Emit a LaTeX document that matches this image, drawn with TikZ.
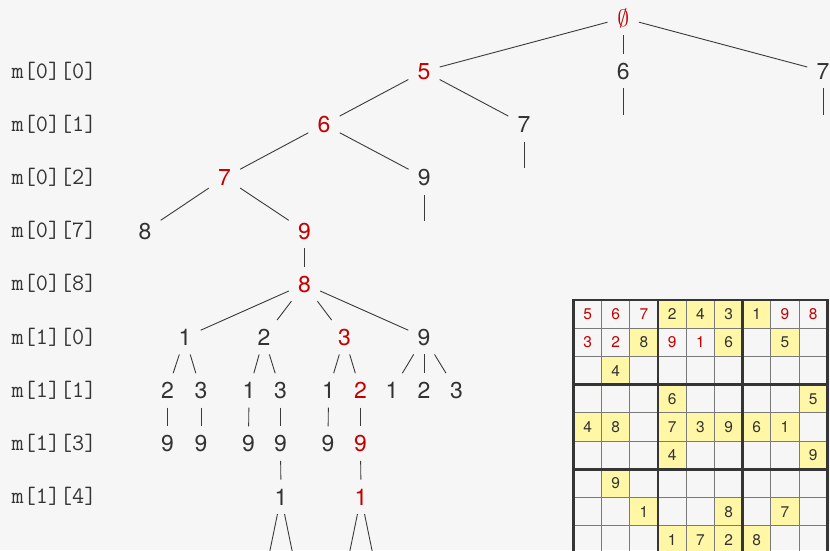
\documentclass[tikz,border=0pt]{standalone}
\usepackage{fontspec}
\usepackage{graphicx}
\newfontfamily\herosfont{TeX Gyre Heros}
\definecolor{bgc}{HTML}{F6F6F6}
\definecolor{ink}{HTML}{333333}
\definecolor{myred}{HTML}{C40000}
\definecolor{linec}{HTML}{3A3A3A}
\definecolor{yel}{HTML}{FFF6A6}
\definecolor{thinc}{HTML}{7A7A7A}
\definecolor{thickc}{HTML}{353535}
\tikzset{
  nd/.style={font=\herosfont\fontsize{23}{27}\selectfont, text=ink, minimum width=31pt, minimum height=34pt, inner sep=0pt, text height=16.4pt, text depth=0pt},
  rd/.style={nd, text=myred},
  edge/.style={draw=linec, line width=0.9pt},
  lab/.style={font=\ttfamily\fontsize{23.5}{27}\selectfont, text=ink, anchor=base west, inner sep=0pt},
  gd/.style={font=\herosfont\fontsize{15.5}{18}\selectfont, text=ink, inner sep=0pt, text height=11pt, text depth=0pt},
  gr/.style={gd, text=myred},
  thinl/.style={draw=thinc, line width=1pt},
  thickl/.style={draw=thickc, line width=2.6pt, line cap=rect},
}
\begin{document}
\begin{tikzpicture}[x=1pt,y=-1pt]
\fill[bgc] (0,0) rectangle (830,550);
\useasboundingbox (0,0) rectangle (830,550);

% row labels
\node[lab] (l1) at (11.5,78) {m[0][0]};
\node[lab] (l2) at (11.5,131.2) {m[0][1]};
\node[lab] (l3) at (11.5,184.4) {m[0][2]};
\node[lab] (l4) at (11.5,237.6) {m[0][7]};
\node[lab] (l5) at (11.5,290.8) {m[0][8]};
\node[lab] (l6) at (11.5,344) {m[1][0]};
\node[lab] (l7) at (11.5,397.2) {m[1][1]};
\node[lab] (l8) at (11.5,450.4) {m[1][3]};
\node[lab] (l9) at (11.5,503.6) {m[1][4]};

% tree nodes
\node[rd] (r) at (623.3,18) {{\fontsize{24.88}{28}\selectfont\scalebox{0.95}{$\emptyset$}}};
\node[rd] (a5) at (424,71.2) {5};
\node[nd] (a6) at (623.3,71.2) {6};
\node[nd] (a7) at (823,71.2) {7};
\node[rd] (b6) at (324,124.4) {6};
\node[nd] (b7) at (524,124.4) {7};
\node[rd] (c7) at (224.5,177.6) {7};
\node[nd] (c9) at (424.3,177.6) {9};
\node[nd] (d8) at (145,230.8) {8};
\node[rd] (d9) at (304.5,230.8) {9};
\node[rd] (e8) at (304.5,284) {8};
\node[nd] (f1) at (185,337.2) {1};
\node[nd] (f2) at (264,337.2) {2};
\node[rd] (f3) at (344.5,337.2) {3};
\node[nd] (f9) at (424,337.2) {9};
\node[nd] (g1a) at (167.5,390.4) {2};
\node[nd] (g1b) at (201,390.4) {3};
\node[nd] (g2a) at (249,390.4) {1};
\node[nd] (g2b) at (280.5,390.4) {3};
\node[nd] (g3a) at (328.5,390.4) {1};
\node[rd] (g3b) at (360.5,390.4) {2};
\node[nd] (g9a) at (392,390.4) {1};
\node[nd] (g9b) at (424,390.4) {2};
\node[nd] (g9c) at (456.5,390.4) {3};
\node[nd] (h1a) at (167.5,443.6) {9};
\node[nd] (h1b) at (201,443.6) {9};
\node[nd] (h2a) at (248.5,443.6) {9};
\node[nd] (h2b) at (280.5,443.6) {9};
\node[nd] (h3a) at (328,443.6) {9};
\node[rd] (h3b) at (360.5,443.6) {9};
\node[nd] (i2) at (281,496.8) {1};
\node[rd] (i3) at (361,496.8) {1};

% free ends
\coordinate (a6e) at (623.3,115);
\coordinate (a7e) at (823,115);
\coordinate (b7e) at (524,168.3);
\coordinate (c9e) at (424.3,221);
\coordinate (i2l) at (268,560);
\coordinate (i2r) at (294,560);
\coordinate (i3l) at (348,560);
\coordinate (i3r) at (374,560);

% edges
\draw[edge] (r) -- (a5);
\draw[edge] (r) -- (a6);
\draw[edge] (r) -- (a7);
\draw[edge] (a5) -- (b6);
\draw[edge] (a5) -- (b7);
\draw[edge] (a6) -- (a6e);
\draw[edge] (a7) -- (a7e);
\draw[edge] (b6) -- (c7);
\draw[edge] (b6) -- (c9);
\draw[edge] (b7) -- (b7e);
\draw[edge] (c7) -- (d8);
\draw[edge] (c7) -- (d9);
\draw[edge] (c9) -- (c9e);
\draw[edge] (d9) -- (e8);
\draw[edge] (e8) -- (f1);
\draw[edge] (e8) -- (f2);
\draw[edge] (e8) -- (f3);
\draw[edge] (e8) -- (f9);
\draw[edge] (f1) -- (g1a);
\draw[edge] (f1) -- (g1b);
\draw[edge] (f2) -- (g2a);
\draw[edge] (f2) -- (g2b);
\draw[edge] (f3) -- (g3a);
\draw[edge] (f3) -- (g3b);
\draw[edge] (f9) -- (g9a);
\draw[edge] (f9) -- (g9b);
\draw[edge] (f9) -- (g9c);
\draw[edge] (g1a) -- (h1a);
\draw[edge] (g1b) -- (h1b);
\draw[edge] (g2a) -- (h2a);
\draw[edge] (g2b) -- (h2b);
\draw[edge] (g3a) -- (h3a);
\draw[edge] (g3b) -- (h3b);
\draw[edge] (h2b) -- (i2);
\draw[edge] (h3b) -- (i3);
\draw[edge] (i2) -- (i2l);
\draw[edge] (i2) -- (i2r);
\draw[edge] (i3) -- (i3l);
\draw[edge] (i3) -- (i3r);

% sudoku grid
\foreach \c/\r/\v in {4/1/2,5/1/4,6/1/3,7/1/1,3/2/8,6/2/6,8/2/5,2/3/4,4/4/6,9/4/5,1/5/4,2/5/8,4/5/7,5/5/3,6/5/9,7/5/6,8/5/1,4/6/4,9/6/9,2/7/9,3/8/1,6/8/8,8/8/7,4/9/1,5/9/7,6/9/2,7/9/8}{
  \fill[yel] ({573.5+(\c-1)*28.2},{300+(\r-1)*28.2}) rectangle ++(28.2,28.2);
  \node[gd] (y\r\c) at ({573.5+(\c-0.5)*28.2},{300+(\r-0.5)*28.2}) {\v};
}
\foreach \c/\r/\v in {1/1/5,2/1/6,3/1/7,8/1/9,9/1/8,1/2/3,2/2/2,4/2/9,5/2/1}{
  \node[gr] (x\r\c) at ({573.5+(\c-0.5)*28.2},{300+(\r-0.5)*28.2}) {\v};
}
\foreach \i in {1,2,4,5,7,8}{
  \draw[thinl] ({573.5+\i*28.2},300) -- ({573.5+\i*28.2},553.8);
  \draw[thinl] (573.5,{300+\i*28.2}) -- (827.3,{300+\i*28.2});
}
\foreach \i in {0,3,6,9}{
  \draw[thickl] ({573.5+\i*28.2},300) -- ({573.5+\i*28.2},553.8);
  \draw[thickl] (573.5,{300+\i*28.2}) -- (827.3,{300+\i*28.2});
}
\end{tikzpicture}
\end{document}
